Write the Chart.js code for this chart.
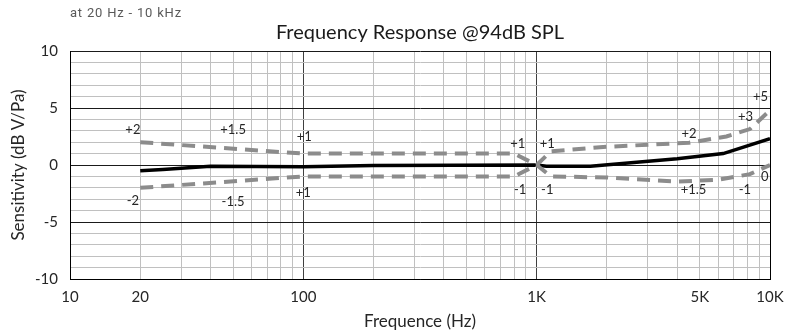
<!DOCTYPE html>
<html lang="en">
<head>
  <meta charset="UTF-8">
  <title>Frequency Response</title>
  <script src="https://cdn.jsdelivr.net/npm/chart.js"></script>
  <style>
    body { margin: 0; background: #fff; }
  </style>
</head>
<body>
  <canvas id="freqChart" width="787" height="334"></canvas>

  <script>
    // measured response (Hz / dB V/Pa)
    const mainFreqs = [20, 25, 40, 100, 200, 1000, 1100, 1700, 4000, 6300, 10000];
    const mainValues = [-0.5, -0.4, -0.1, -0.15, -0.05, 0, -0.1, -0.1, 0.55, 1.0, 2.3];

    // tolerance limits
    const upperFreqs = [20, 100, 800, 1000, 1150, 2000, 4500, 6500, 8200, 10000];
    const upperValues = [2, 1, 1, 0, 1.2, 1.6, 1.95, 2.5, 3.15, 4.8];
    const lowerFreqs = [20, 100, 800, 1000, 1150, 2000, 4000, 6000, 8200, 10000];
    const lowerValues = [-2, -1, -1, 0, -1, -1.1, -1.45, -1.3, -0.8, 0];

    // axis ticks
    const gridFreqs = [10, 20, 30, 40, 50, 60, 70, 80, 90,
                       100, 200, 300, 400, 500, 600, 700, 800, 900,
                       1000, 2000, 3000, 4000, 5000, 6000, 7000, 8000, 9000, 10000];
    const labeledFreqs = [10, 20, 100, 1000, 5000, 10000];
    const labeledText = ['10', '20', '100', '1K', '5K', '10K'];

    // tolerance notes written on the chart (freq, dB, text)
    const noteFreqs = [18.6, 50, 101, 830, 1110, 4500, 7850, 9100, 9500, 7800, 4700, 850, 1110, 100, 50, 18.6];
    const noteValues = [3.05, 3.05, 2.5, 1.9, 1.9, 2.7, 4.2, 6.0, -1.05, -2.2, -2.2, -2.2, -2.2, -2.4, -3.2, -3.15];
    const noteTexts = ['+2', '+1.5', '+1', '+1', '+1', '+2', '+3', '+5', '0', '-1', '+1.5', '-1', '-1', '+1', '-1.5', '-2'];

    const toPoints = (xs, ys) => xs.map((x, i) => ({ x: x, y: ys[i] }));

    const textPlugin = {
      id: 'textPlugin',
      afterDatasetsDraw(chart) {
        const ctx = chart.ctx;
        const xs = chart.scales.x, ys = chart.scales.y;
        ctx.save();
        ctx.fillStyle = '#262626';
        ctx.font = '13px Lato, "Open Sans", sans-serif';
        ctx.textAlign = 'center';
        ctx.textBaseline = 'middle';
        noteTexts.forEach((t, i) => {
          ctx.fillText(t, xs.getPixelForValue(noteFreqs[i]), ys.getPixelForValue(noteValues[i]));
        });
        ctx.restore();
      },
      afterDraw(chart) {
        const ctx = chart.ctx;
        const area = chart.chartArea;
        ctx.save();
        ctx.textBaseline = 'middle';
        ctx.textAlign = 'left';
        ctx.fillStyle = '#595959';
        ctx.font = '13px Roboto, sans-serif';
        ctx.letterSpacing = '0.8px';
        ctx.fillText('at 20 Hz - 10 kHz', area.left, 14);
        ctx.letterSpacing = '0px';
        ctx.textAlign = 'center';
        ctx.fillStyle = '#1a1a1a';
        ctx.font = '20px Lato, "Open Sans", sans-serif';
        ctx.fillText('Frequency Response @94dB SPL', (area.left + area.right) / 2, 33);
        ctx.restore();
      }
    };

    new Chart(document.getElementById('freqChart').getContext('2d'), {
      type: 'line',
      data: {
        datasets: [
          {
            label: 'Upper limit',
            data: toPoints(upperFreqs, upperValues),
            borderColor: '#8c8c8c',
            borderWidth: 4,
            borderDash: [13, 8],
            pointRadius: 0,
            fill: false
          },
          {
            label: 'Lower limit',
            data: toPoints(lowerFreqs, lowerValues),
            borderColor: '#8c8c8c',
            borderWidth: 4,
            borderDash: [13, 8],
            pointRadius: 0,
            fill: false
          },
          {
            label: 'Response',
            data: toPoints(mainFreqs, mainValues),
            borderColor: '#000000',
            borderWidth: 3.5,
            pointRadius: 0,
            fill: false
          }
        ]
      },
      options: {
        responsive: false,
        animation: false,
        layout: { padding: { top: 51, right: 17, left: 0, bottom: 0 } },
        plugins: {
          legend: { display: false },
          tooltip: { enabled: false }
        },
        scales: {
          x: {
            type: 'logarithmic',
            min: 10,
            max: 10000,
            afterBuildTicks: scale => { scale.ticks = gridFreqs.map(v => ({ value: v })); },
            afterFit: scale => { scale.height = 55; scale.paddingRight = 0; },
            ticks: {
              autoSkip: false,
              maxRotation: 0,
              padding: 9,
              color: '#262626',
              font: { family: 'Lato, "Open Sans", sans-serif', size: 15 },
              callback: value => {
                const i = labeledFreqs.indexOf(value);
                return i >= 0 ? labeledText[i] : '';
              }
            },
            grid: {
              drawTicks: false,
              lineWidth: 1,
              color: ctx => {
                const v = ctx.tick && ctx.tick.value;
                if (v === 10 || v === 10000) return '#000000';
                if (v === 100 || v === 1000) return '#404040';
                return '#c0c0c0';
              }
            },
            border: { display: true, color: '#000000', width: 1 },
            title: {
              display: true,
              text: 'Frequence (Hz)',
              color: '#262626',
              font: { family: 'Lato, "Open Sans", sans-serif', size: 17 },
              padding: { top: 0, bottom: 2 }
            }
          },
          y: {
            min: -10,
            max: 10,
            afterFit: scale => { scale.width = 70; },
            ticks: {
              stepSize: 1,
              autoSkip: false,
              padding: 12,
              color: '#262626',
              font: { family: 'Lato, "Open Sans", sans-serif', size: 15 },
              callback: value => (value % 5 === 0 ? String(value) : '')
            },
            grid: {
              drawTicks: false,
              lineWidth: 1,
              color: ctx => {
                const v = ctx.tick && ctx.tick.value;
                return v % 5 === 0 ? '#1a1a1a' : '#c0c0c0';
              }
            },
            border: { display: true, color: '#000000', width: 1 },
            title: {
              display: true,
              text: 'Sensitivity (dB V/Pa)',
              color: '#262626',
              font: { family: 'Lato, "Open Sans", sans-serif', size: 17 },
              padding: { top: 8, bottom: 0 }
            }
          }
        }
      },
      plugins: [textPlugin]
    });
  </script>
</body>
</html>
